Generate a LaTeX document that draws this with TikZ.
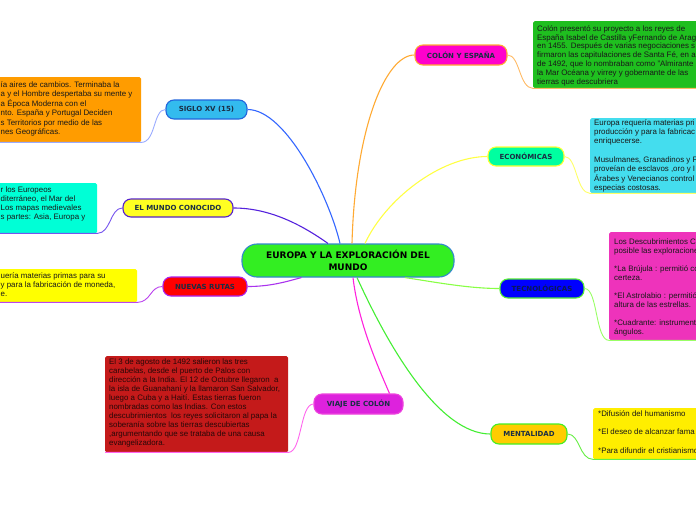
\documentclass[tikz,border=0pt]{standalone}
\usepackage{fontspec}
\setmainfont{Liberation Sans}
\newfontfamily\topicfont{DejaVu Sans}
\usetikzlibrary{calc}
\definecolor{topictext}{HTML}{1A2E44}
\tikzset{
  topic/.style={draw, rounded corners=8pt, line width=1.1pt, minimum height=19pt, inner sep=0pt,
    font=\topicfont\bfseries\fontsize{7}{8}\selectfont, text=topictext},
  infobox/.style={rounded corners=1.5pt, inner sep=0pt, anchor=north west},
  infotext/.style={anchor=north west, inner sep=0pt, align=left, text=black!90},
  mainlink/.style={line width=1.1pt},
  sidelink/.style={line width=0.9pt},
}
\newcommand{\ft}[1]{\fontsize{7.9}{#1}\selectfont}
\begin{document}
\begin{tikzpicture}[x=1pt,y=-1pt]
\clip (0,0) rectangle (696,520);
\fill[white] (0,0) rectangle (696,520);

% info boxes
\node[infobox, fill={rgb,255:red,255;green,156;blue,0}, minimum width=146pt, minimum height=65pt] (obox) at (-5,77) {};
\node[infobox, fill={rgb,255:red,0;green,255;blue,214}, minimum width=102pt, minimum height=50pt] (mbox) at (-5,183) {};
\node[infobox, fill={rgb,255:red,255;green,255;blue,0}, minimum width=142pt, minimum height=33pt] (nbox) at (-5,269) {};
\node[infobox, fill={rgb,255:red,31;green,191;blue,31}, minimum width=170pt, minimum height=67pt] (cbox) at (533,21) {};
\node[infobox, fill={rgb,255:red,68;green,221;blue,238}, minimum width=115pt, minimum height=75pt] (ebox) at (590,118) {};
\node[infobox, fill={rgb,255:red,238;green,51;blue,187}, minimum width=95pt, minimum height=108pt] (tbox) at (609,232) {};
\node[infobox, fill={rgb,255:red,196;green,26;blue,26}, minimum width=183pt, minimum height=96pt] (vbox) at (105,356) {};
\node[infobox, fill={rgb,255:red,255;green,238;blue,0}, minimum width=110pt, minimum height=51pt] (lbox) at (593,408) {};

% info texts
\node[infotext, font=\ft{9.55}] (otext) at (0.5,80.5) {\rule{0pt}{6.5pt}ía aires de cambios. Terminaba la\\a y el Hombre despertaba su mente y\\a Época Moderna con el\\nto. España y Portugal Deciden\\s Territorios por medio de las\\nes Geográficas.};
\node[infotext, font=\ft{9}] (mtext) at (0.5,185.5) {\rule{0pt}{6.5pt}r los Europeos\\diterráneo, el Mar del\\Los mapas medievales\\s partes: Asia, Europa y};
\node[infotext, font=\ft{9}] (ntext) at (0.5,271.5) {\rule{0pt}{6.5pt}uería materias primas para su\\y para la fabricación de moneda,\\e.};
\node[infotext, font=\ft{8.8}] (ctext) at (537,24.5) {\rule{0pt}{6.5pt}Colón presentó su proyecto a los reyes de\\España Isabel de Castilla yFernando de Arag\\en 1455. Después de varias negociaciones s\\firmaron las capitulaciones de Santa Fé, en a\\de 1492, que lo nombraban como "Almirante\\la Mar Océana y virrey y gobernante de las\\tierras que descubriera};
\node[infotext, font=\ft{9.3}] (etext) at (594,118.5) {\rule{0pt}{6.5pt}Europa requería materias pri\\producción y para la fabricac\\enriquecerse.\\~\\Musulmanes, Granadinos y F\\proveían de esclavos ,oro y I\\Árabes y Venecianos control\\especias costosas.};
\node[infotext, font=\ft{9}] (ttext) at (614,237.5) {\rule{0pt}{6.5pt}Los Descubrimientos C\\posible las exploracione\\~\\*La Brújula : permitió co\\certeza.\\~\\*El Astrolabio : permitió\\altura de las estrellas.\\~\\*Cuadrante: instrument\\ángulos.};
\node[infotext, font=\ft{9}, text={rgb,255:red,40;green,8;blue,8}] (vtext) at (109,357.5) {\rule{0pt}{6.5pt}El 3 de agosto de 1492 salieron las tres\\carabelas, desde el puerto de Palos con\\dirección a la India. El 12 de Octubre llegaron \ a\\la isla de Guanahaní y la llamaron San Salvador,\\luego a Cuba y a Haití. Estas tierras fueron\\nombradas como las Indias. Con estos\\descubrimientos \ los reyes solicitaron al papa la\\soberanía sobre las tierras descubiertas\\,argumentando que se trataba de una causa\\evangelizadora.};
\node[infotext, font=\ft{9.25}] (ltext) at (598,409.5) {\rule{0pt}{6.5pt}*Difusión del humanismo\\~\\*El deseo de alcanzar fama\\~\\*Para difundir el cristianismo};

% central node
\node[draw, rounded corners=15pt, line width=1.1pt, draw={rgb,255:red,51;green,136;blue,204}, fill={rgb,255:red,51;green,238;blue,34},
  minimum width=212pt, minimum height=33pt, inner sep=0pt, align=center,
  font=\topicfont\bfseries\fontsize{9}{11.7}\selectfont] (central) at (348,260.5) {EUROPA Y LA EXPLORACIÓN DEL\\MUNDO};

% topic nodes
\node[topic, minimum width=81pt, fill={rgb,255:red,51;green,187;blue,238}, draw={rgb,255:red,34;green,102;blue,221}] (siglo) at (206.5,109.5) {SIGLO XV (15)};
\node[topic, minimum width=110pt, minimum height=18pt, fill={rgb,255:red,255;green,255;blue,34}, draw={rgb,255:red,85;green,34;blue,204}] (mundo) at (178,208) {EL MUNDO CONOCIDO};
\node[topic, minimum width=84pt, fill={rgb,255:red,255;green,0;blue,0}, draw={rgb,255:red,170;green,34;blue,238}] (nuevas) at (205,286.5) {NUEVAS RUTAS};
\node[topic, minimum width=92pt, minimum height=20pt, fill={rgb,255:red,255;green,0;blue,204}, draw={rgb,255:red,255;green,170;blue,51}] (colon) at (461,55) {COLÓN Y ESPAÑA};
\node[topic, minimum width=76pt, fill={rgb,255:red,0;green,255;blue,160}, draw={rgb,255:red,255;green,255;blue,51}] (econ) at (526,156.5) {ECONÓMICAS};
\node[topic, minimum width=84pt, fill={rgb,255:red,0;green,0;blue,255}, draw={rgb,255:red,85;green,238;blue,51}, text={rgb,255:red,10;green,26;blue,85}] (tecno) at (542,288.5) {TECNOLÓGICAS};
\node[topic, minimum width=89pt, minimum height=20pt, fill={rgb,255:red,221;green,34;blue,221}, draw={rgb,255:red,238;green,68;blue,221}] (viaje) at (358.5,404) {VIAJE DE COLÓN};
\node[topic, minimum width=76pt, minimum height=20pt, fill={rgb,255:red,255;green,204;blue,0}, draw={rgb,255:red,68;green,238;blue,34}] (mental) at (529,434) {MENTALIDAD};

% main links
\draw[mainlink, draw={rgb,255:red,51;green,102;blue,255}] (siglo.east) .. controls (287,109.5) and (330,200) .. ($(central.north)+(-8,0)$);
\draw[mainlink, draw={rgb,255:red,85;green,34;blue,221}] (mundo.east) .. controls (270,208) and (302,225) .. ($(central.north)+(-20,0)$);
\draw[mainlink, draw={rgb,255:red,170;green,51;blue,238}] (nuevas.east) .. controls (270,286.5) and (285,282) .. ($(central.south west)+(60,0)$);
\draw[mainlink, draw={rgb,255:red,255;green,170;blue,51}] ($(central.north)+(4,0)$) .. controls (355,130) and (385,55) .. (colon.west);
\draw[mainlink, draw={rgb,255:red,255;green,255;blue,68}] ($(central.north)+(17,0)$) .. controls (385,200) and (440,156.5) .. (econ.west);
\draw[mainlink, draw={rgb,255:red,136;green,255;blue,68}] ($(central.south)+(57,0)$) .. controls (440,283) and (470,288.5) .. (tecno.west);
\draw[mainlink, draw={rgb,255:red,255;green,34;blue,221}] ($(central.south)+(5,0)$) .. controls (358,320) and (375,360) .. ($(viaje.north)+(31,0)$);
\draw[mainlink, draw={rgb,255:red,68;green,238;blue,51}] ($(central.south)+(9,0)$) .. controls (390,350) and (440,434) .. (mental.west);

% side links
\draw[sidelink, draw={rgb,255:red,153;green,170;blue,255}] (siglo.west) .. controls (153,109.5) and (156,142) .. (obox.south east) -- (obox.south west);
\draw[sidelink, draw={rgb,255:red,119;green,85;blue,238}] (mundo.west) .. controls (110,208) and (111,233) .. (mbox.south east) -- (mbox.south west);
\draw[sidelink, draw={rgb,255:red,187;green,68;blue,238}] (nuevas.west) .. controls (150,286.5) and (151,302) .. (nbox.south east) -- (nbox.south west);
\draw[sidelink, draw={rgb,255:red,255;green,187;blue,102}] (colon.east) .. controls (520,55) and (519,88) .. (cbox.south west) -- (cbox.south east);
\draw[sidelink, draw={rgb,255:red,255;green,255;blue,102}] (econ.east) .. controls (577,156.5) and (576,193) .. (ebox.south west) -- (ebox.south east);
\draw[sidelink, draw={rgb,255:red,153;green,255;blue,102}] (tecno.east) .. controls (598,288.5) and (595,340) .. (tbox.south west) -- (tbox.south east);
\draw[sidelink, draw={rgb,255:red,255;green,102;blue,238}] (viaje.west) .. controls (300,404) and (302,452) .. (vbox.south east) -- (vbox.south west);
\draw[sidelink, draw={rgb,255:red,102;green,238;blue,68}] (mental.east) .. controls (580,434) and (579,459) .. (lbox.south west) -- (lbox.south east);
\end{tikzpicture}
\end{document}
